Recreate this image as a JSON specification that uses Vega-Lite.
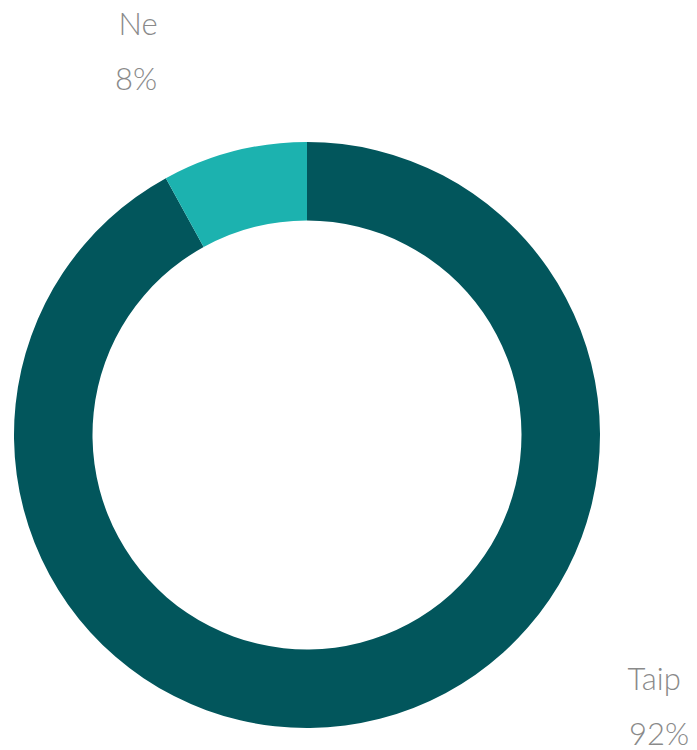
{
  "$schema": "https://vega.github.io/schema/vega-lite/v6.json",
  "width": 614,
  "height": 630,
  "autosize": {"type": "none"},
  "padding": {"left": 0, "top": 120, "right": 83, "bottom": 0},
  "background": "white",
  "view": {"stroke": null},
  "data": {"values": [
    {"cat": "Taip", "value": 0.92},
    {"cat": "Ne", "value": 0.08}
  ]},
  "encoding": {
    "theta": {"field": "value", "type": "quantitative", "stack": true},
    "order": {"field": "value", "type": "quantitative", "sort": "descending"}
  },
  "layer": [
    {
      "mark": {"type": "arc", "radius": 293, "radius2": 214.5, "stroke": null},
      "encoding": {
        "color": {"field": "cat", "type": "nominal", "legend": null,
          "scale": {"domain": ["Taip", "Ne"], "range": ["#02565C", "#1CB2AF"]}}
      }
    },
    {
      "mark": {"type": "text", "radius": 394, "dx": -71, "dy": -27, "font": "Lato", "fontWeight": 300, "fontSize": 31, "fill": "#8a8a8a", "align": "center", "baseline": "middle"},
      "encoding": {"text": {"condition": {"test": "datum.cat === 'Ne'", "field": "cat"}, "value": ""}}
    },
    {
      "mark": {"type": "text", "radius": 394, "dx": -73, "dy": 28, "font": "Lato", "fontWeight": 300, "fontSize": 31, "fill": "#8a8a8a", "align": "center", "baseline": "middle"},
      "encoding": {"text": {"condition": {"test": "datum.cat === 'Ne'", "field": "value", "format": ".0%"}, "value": ""}}
    },
    {
      "mark": {"type": "text", "radius": 282, "dx": 277, "dy": -27, "font": "Lato", "fontWeight": 300, "fontSize": 31, "fill": "#8a8a8a", "align": "center", "baseline": "middle"},
      "encoding": {"text": {"condition": {"test": "datum.cat === 'Taip'", "field": "cat"}, "value": ""}}
    },
    {
      "mark": {"type": "text", "radius": 282, "dx": 282, "dy": 28, "font": "Lato", "fontWeight": 300, "fontSize": 31, "fill": "#8a8a8a", "align": "center", "baseline": "middle"},
      "encoding": {"text": {"condition": {"test": "datum.cat === 'Taip'", "field": "value", "format": ".0%"}, "value": ""}}
    }
  ]
}
